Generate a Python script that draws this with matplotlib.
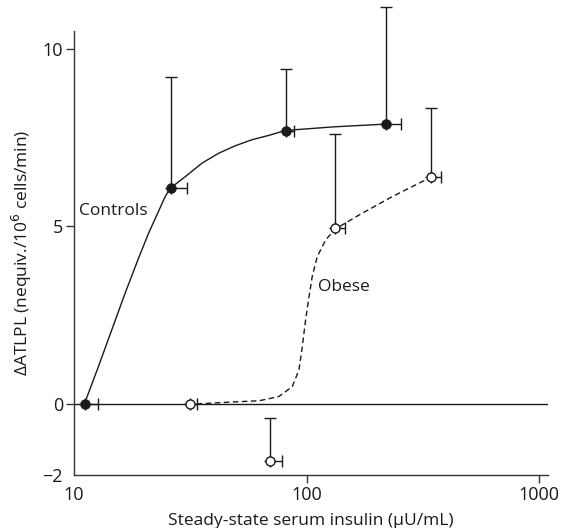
import numpy as np
import matplotlib
matplotlib.use('Agg')
import matplotlib.pyplot as plt

plt.rcParams['font.family'] = ['Open Sans', 'DejaVu Sans']

# Controls (filled circles)
ctrl_x = [11.1, 26.0, 81.5, 220.0]
ctrl_y = [0.0, 6.08, 7.69, 7.88]
ctrl_y_hi = [np.nan, 9.2, 9.44, 11.17]
ctrl_x_hi = [12.7, 30.5, 88.0, 254.0]

# Obese (open circles)
obese_x = [31.4, 69.5, 133.0, 344.0]
obese_y = [0.0, -1.62, 4.95, 6.39]
obese_y_hi = [np.nan, -0.40, 7.61, 8.32]
obese_x_hi = [33.7, 78.0, 146.0, 380.0]

# fitted curves
ctrl_curve_x = [11.08, 12.73, 14.52, 16.59, 18.93, 20.9, 23.07, 24.66, 26.0,
                30.1, 35.5, 41.9, 49.4, 58.3, 68.7, 81.1, 130.0, 220.0]
ctrl_curve_y = [0.0, 1.05, 2.08, 3.12, 4.1, 4.8, 5.42, 5.84, 6.08,
                6.40, 6.78, 7.06, 7.27, 7.44, 7.56, 7.70, 7.80, 7.88]
obese_curve_x = [33.7, 46.3, 62.5, 76.0, 86.8, 92.7, 95.8, 99.0, 102.4, 105.7,
                 111.1, 120.8, 132.5, 168.0, 233.8, 344.0]
obese_curve_y = [0.0, 0.05, 0.09, 0.21, 0.49, 0.96, 1.61, 2.37, 3.02, 3.59,
                 4.15, 4.62, 4.92, 5.32, 5.84, 6.39]

fig = plt.figure(figsize=(5.62, 5.28), dpi=100)
ax = fig.add_axes([0.1317, 0.1004, 0.8433, 0.8409])
ax.set_xscale('log')
ax.set_xlim(10, 1090)
ax.set_ylim(-2, 10.5)

ink = '#1a1a1a'
ax.axhline(0, color=ink, lw=1.0, zorder=1)

ax.plot(ctrl_curve_x, ctrl_curve_y, color=ink, lw=1.0, zorder=2)
ax.plot(obese_curve_x, obese_curve_y, color=ink, lw=1.0, ls=(0, (4, 2.5)), zorder=2)


def draw_points(x, y, y_hi, x_hi, face):
    x = np.array(x)
    y = np.array(y)
    yerr = np.array(y_hi) - y
    xerr = np.array(x_hi) - x
    for err in [dict(yerr=[np.zeros_like(y), yerr]), dict(xerr=[np.zeros_like(x), xerr])]:
        eb = ax.errorbar(x, y, fmt='none', ecolor=ink, elinewidth=1.0, capsize=4,
                         capthick=1.0, zorder=3, **err)
        for art in eb.lines[1] + eb.lines[2]:
            art.set_clip_on(False)
    ax.plot(x, y, 'o', ms=6.5, mfc=face, mec=ink, mew=1.0, zorder=4, clip_on=False)


draw_points(ctrl_x, ctrl_y, ctrl_y_hi, ctrl_x_hi, ink)
draw_points(obese_x, obese_y, obese_y_hi, obese_x_hi, 'white')

ax.text(20.8, 5.44, 'Controls', ha='right', va='center', fontsize=12.5, color=ink)
ax.text(112, 3.3, 'Obese', ha='left', va='center', fontsize=12.5, color=ink)

for s in ['top', 'right']:
    ax.spines[s].set_visible(False)
for s in ['left', 'bottom']:
    ax.spines[s].set_color('#333333')
    ax.spines[s].set_linewidth(1.0)

ax.set_yticks([10, 5, 0, -2])
ax.set_yticklabels(['10', '5', '0', '\u22122'])
ax.set_xticks([10, 100, 1000])
ax.set_xticklabels(['10', '100', '1000'])
ax.xaxis.set_minor_locator(matplotlib.ticker.NullLocator())
ax.tick_params(axis='both', direction='out', length=6, width=1.0, colors='#333333',
               labelcolor=ink, labelsize=13, pad=2)
# no tick marks at the corner
ax.xaxis.get_major_ticks()[0].tick1line.set_visible(False)
ax.yaxis.get_major_ticks()[3].tick1line.set_visible(False)

ax.set_xlabel('Steady-state serum insulin (\u03bcU/mL)', fontsize=12.5, color=ink)
ax.xaxis.set_label_coords(0.5, -0.085)
ax.set_ylabel('\u0394ATLPL (nequiv./10$^6$ cells/min)', fontsize=12.5, color=ink)
ax.yaxis.set_label_coords(-0.085, 0.5)

fig.savefig('out.png', dpi=100)
